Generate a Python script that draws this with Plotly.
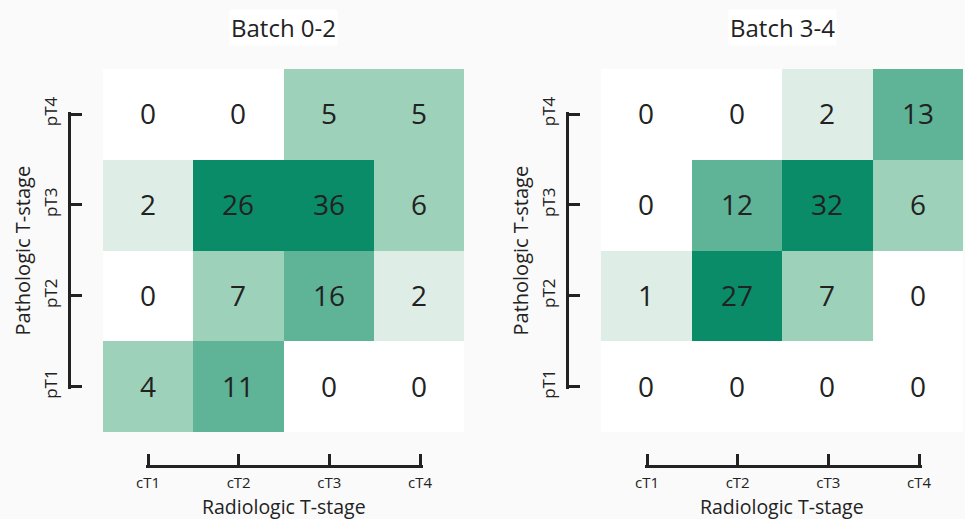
import plotly.graph_objects as go

W, H = 965, 519

x_labels = ["cT1", "cT2", "cT3", "cT4"]
y_labels = ["pT1", "pT2", "pT3", "pT4"]  # bottom to top

# rows ordered pT1, pT2, pT3, pT4
batch_0_2 = [
    [4, 11, 0, 0],
    [0, 7, 16, 2],
    [2, 26, 36, 6],
    [0, 0, 5, 5],
]
batch_3_4 = [
    [0, 0, 0, 0],
    [1, 27, 7, 0],
    [0, 12, 32, 6],
    [0, 0, 2, 13],
]
titles = ["Batch 0-2", "Batch 3-4"]

bin_edges = [1, 4, 11, 21]  # value thresholds for colour levels
colors = ["#ffffff", "#deeee6", "#9dd1ba", "#5fb397", "#0a8c69"]


def level(v):
    return sum(v >= e for e in bin_edges)


def stepped_scale(cols):
    n = len(cols)
    scale = []
    for i, c in enumerate(cols):
        lo = max(0, (i - 0.5) / (n - 1))
        hi = min(1, (i + 0.5) / (n - 1))
        scale.append([lo, c])
        scale.append([hi, c])
    return scale


FONT = "Open Sans"
TXT = "#222222"
BG = "#fafafa"
fig = go.Figure()

def px(x):
    return x / W

def py(y):
    return 1 - y / H

panels = [
    dict(data=batch_0_2, hx=(103, 464), tx=(148, 420), yline=69),
    dict(data=batch_3_4, hx=(601, 963), tx=(647, 919), yline=567),
]
ty_span = (114.0, 386.6)

layout = dict(
    width=W, height=H, autosize=False,
    margin=dict(l=0, r=0, t=0, b=0, pad=0, autoexpand=False),
    paper_bgcolor=BG, plot_bgcolor="rgba(0,0,0,0)",
    showlegend=False,
    font=dict(family=FONT, color=TXT),
)
annotations = []
PADPX = 2.5  # keep end ticks inside the axis so plotly draws them

for i, p in enumerate(panels):
    hx = "x" if i == 0 else "x2"
    hy = "y" if i == 0 else "y2"
    tx = "x3" if i == 0 else "x4"
    ty = "y3" if i == 0 else "y4"
    z = [[level(v) for v in row] for row in p["data"]]
    fig.add_trace(go.Heatmap(
        z=z, x=x_labels, y=y_labels, text=p["data"],
        texttemplate="%{text}", textfont=dict(size=28, color=TXT, family=FONT),
        colorscale=stepped_scale(colors), zmin=0, zmax=len(colors) - 1,
        showscale=False, hoverinfo="skip", xaxis=hx, yaxis=hy,
    ))
    # invisible trace to carry the trimmed tick axes
    fig.add_trace(go.Scatter(
        x=x_labels, y=y_labels, mode="markers", marker=dict(opacity=0),
        hoverinfo="skip", xaxis=tx, yaxis=ty,
    ))
    hxk = "xaxis" if i == 0 else "xaxis2"
    hyk = "yaxis" if i == 0 else "yaxis2"
    txk = "xaxis3" if i == 0 else "xaxis4"
    tyk = "yaxis3" if i == 0 else "yaxis4"
    xspan = p["tx"][1] - p["tx"][0]
    xpad = PADPX * 3 / xspan
    yspan = ty_span[1] - ty_span[0]
    ypad = PADPX * 3 / yspan
    layout[hxk] = dict(domain=[px(p["hx"][0]), px(p["hx"][1])], range=[-0.5, 3.5],
                       visible=False, anchor=hy, fixedrange=True, automargin=False)
    layout[hyk] = dict(domain=[py(432), py(69)], range=[-0.5, 3.5],
                       visible=False, anchor=hx, fixedrange=True, automargin=False)
    layout[txk] = dict(domain=[px(p["tx"][0] - PADPX), px(p["tx"][1] + PADPX)],
                       range=[-xpad, 3 + xpad],
                       anchor="free", position=py(466), showline=True,
                       linecolor=TXT, linewidth=2.5, ticks="inside", ticklen=11,
                       tickwidth=2.5, tickcolor=TXT, showgrid=False, zeroline=False,
                       tickfont=dict(size=15, family=FONT, color=TXT),
                       ticklabelstandoff=2, fixedrange=True, automargin=False)
    layout[tyk] = dict(domain=[py(ty_span[1] + PADPX), py(ty_span[0] - PADPX)],
                       range=[-ypad, 3 + ypad],
                       anchor="free", position=px(p["yline"]), showline=True,
                       linecolor=TXT, linewidth=2.5, ticks="inside", ticklen=11,
                       tickwidth=2.5, tickcolor=TXT, showgrid=False, zeroline=False,
                       tickangle=-90,
                       tickfont=dict(size=17, family=FONT, color=TXT),
                       ticklabelstandoff=4, fixedrange=True, automargin=False)
    cx = (p["hx"][0] + p["hx"][1]) / 2
    annotations.append(dict(text=titles[i], x=px(cx), y=py(27), xref="paper", yref="paper",
                            showarrow=False, font=dict(size=24, family=FONT, color=TXT),
                            xanchor="center", yanchor="middle", bgcolor="#ffffff"))
    annotations.append(dict(text="Radiologic T-stage", x=px(cx), y=py(506), xref="paper",
                            yref="paper", showarrow=False,
                            font=dict(size=19.5, family=FONT, color=TXT),
                            xanchor="center", yanchor="middle"))
    annotations.append(dict(text="Pathologic T-stage", x=px(p["yline"] - 47), y=py(250.5),
                            xref="paper", yref="paper", showarrow=False, textangle=-90,
                            font=dict(size=20, family=FONT, color=TXT),
                            xanchor="center", yanchor="middle"))

layout["annotations"] = annotations
fig.update_layout(**layout)
fig.write_html(
    "out.html",
    config={"displayModeBar": False},
    post_script="document.body.style.margin='0px';document.body.style.background='" + BG + "';",
)
